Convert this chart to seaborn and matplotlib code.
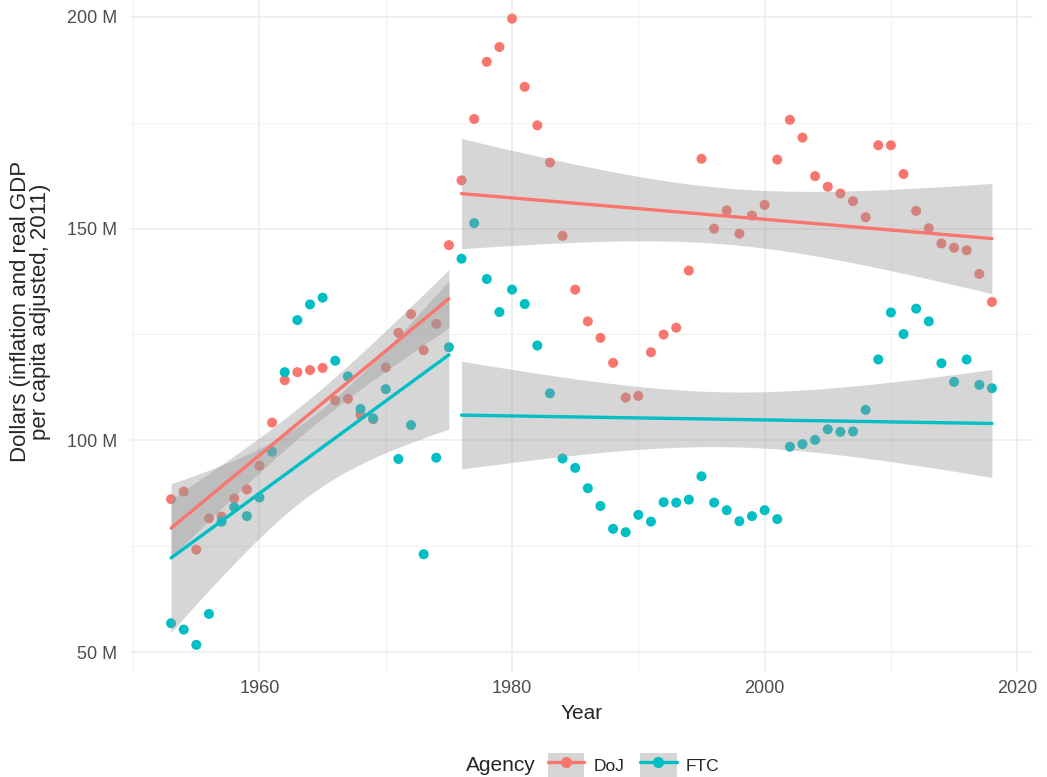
"""
Antitrust enforcement budgets by agency, 1953-2018.

Scatter of yearly budgets (DoJ vs FTC) with separate linear fits
before and after 1976, drawn in a ggplot-like minimal style.
"""

import numpy as np
import pandas as pd
import matplotlib
matplotlib.use("Agg")
import matplotlib.pyplot as plt
import seaborn as sns
from matplotlib.patches import Patch
from matplotlib.lines import Line2D
from matplotlib.legend_handler import HandlerTuple
from matplotlib.ticker import FuncFormatter, MultipleLocator

# Data (millions of dollars)
years = list(range(1953, 2019))

doj = [86.1, 87.9, 74.2, 81.6, 82.0, 86.3, 88.4, 94.0, 104.2, 114.2,
       116.1, 116.6, 117.1, 109.4, 109.8, 106.0, 105.0, 117.2, 125.4, 129.8,
       121.3, 127.5, 146.1, 161.4, 175.9, 189.4, 192.9, 199.6, 183.5, 174.4,
       165.6, 148.3, 135.6, 128.1, 124.2, 118.3, 110.1, 110.5, 120.8, 125.0,
       126.6, 140.1, 166.5, 150.0, 154.3, 148.8, 153.1, 155.6, 166.3, 175.7,
       171.5, 162.4, 159.9, 158.3, 156.5, 152.7, 169.7, 169.7, 162.9, 154.2,
       150.1, 146.5, 145.5, 144.9, 139.3, 132.7]

ftc = [56.8, 55.3, 51.7, 59.0, 80.8, 84.2, 82.1, 86.5, 97.3, 116.1,
       128.4, 132.1, 133.7, 118.8, 115.1, 107.4, 105.2, 112.1, 95.6, 103.6,
       73.1, 95.9, 122.0, 142.9, 151.3, 138.1, 130.3, 135.6, 132.2, 122.4,
       111.1, 95.7, 93.5, 88.7, 84.5, 79.1, 78.3, 82.4, 80.8, 85.4,
       85.3, 86.0, 91.5, 85.3, 83.5, 80.9, 82.1, 83.5, 81.4, 98.5,
       99.1, 100.1, 102.6, 102.0, 102.1, 107.2, 119.1, 130.2, 125.1, 131.1,
       128.1, 118.2, 113.8, 119.1, 113.1, 112.3]

agencies = ["DoJ", "FTC"]
colors = {"DoJ": "#F8766D", "FTC": "#00BFC4"}
break_year = 1976  # fits are estimated separately before / after


def t_quantile_975(dof: int) -> float:
    """Approximate 97.5% Student-t quantile (Cornish-Fisher expansion)."""
    z = 1.959964
    return (z + (z**3 + z) / (4 * dof)
            + (5 * z**5 + 16 * z**3 + 3 * z) / (96 * dof**2))


def ols_band(x: np.ndarray, y: np.ndarray, n_grid: int = 80):
    """Analytic 95% confidence band of a linear fit (like geom_smooth)."""
    slope, intercept = np.polyfit(x, y, 1)
    resid = y - (slope * x + intercept)
    n = len(x)
    s = np.sqrt(np.sum(resid**2) / (n - 2))
    sxx = np.sum((x - x.mean())**2)
    grid = np.linspace(x.min(), x.max(), n_grid)
    fit = slope * grid + intercept
    se = s * np.sqrt(1 / n + (grid - x.mean())**2 / sxx)
    t = t_quantile_975(n - 2)
    return grid, fit - t * se, fit + t * se


# Long-format table
df = pd.DataFrame({
    "year": years * 2,
    "value": doj + ftc,
    "agency": ["DoJ"] * len(years) + ["FTC"] * len(years),
})
df["period"] = np.where(df["year"] < break_year, "pre", "post")

sns.set_style("white")
plt.rcParams["font.family"] = ["Liberation Sans", "DejaVu Sans"]

fig, ax = plt.subplots(figsize=(10.47, 7.77), dpi=100)
fig.subplots_adjust(left=0.1242, right=0.9866, top=1.0, bottom=0.1351)

# Points first, so the confidence bands sit on top like in ggplot
sns.scatterplot(data=df, x="year", y="value", hue="agency", palette=colors,
                s=52, linewidth=0, legend=False, ax=ax, zorder=2)

# Separate linear fits per agency and period
for agency in agencies:
    for period in ["pre", "post"]:
        sub = df[(df["agency"] == agency) & (df["period"] == period)]
        grid, lo, hi = ols_band(sub["year"].to_numpy(float),
                                sub["value"].to_numpy(float))
        ax.fill_between(grid, lo, hi, color="#999999", alpha=0.4,
                        linewidth=0, zorder=3)
        n_lines = len(ax.lines)
        sns.regplot(data=sub, x="year", y="value", scatter=False, ci=None,
                    color=colors[agency], line_kws={"linewidth": 2.4}, ax=ax)
        for line in ax.lines[n_lines:]:
            line.set_zorder(4)

# Axes styling (theme_minimal look)
ax.set_xlim(1949.75, 2021.25)
ax.set_ylim(45.28, 204.0)
ax.xaxis.set_major_locator(MultipleLocator(20))
ax.xaxis.set_minor_locator(MultipleLocator(10))
ax.yaxis.set_major_locator(MultipleLocator(50))
ax.yaxis.set_minor_locator(MultipleLocator(25))
ax.yaxis.set_major_formatter(FuncFormatter(lambda v, _: f"{int(v)} M"))

ax.grid(True, which="major", color="#EBEBEB", linewidth=1.1)
ax.grid(True, which="minor", color="#F2F2F2", linewidth=0.8)
ax.set_axisbelow(True)
for spine in ax.spines.values():
    spine.set_visible(False)
ax.tick_params(which="both", length=0, labelsize=13, labelcolor="#4D4D4D")
ax.tick_params(axis="y", pad=9)
ax.tick_params(axis="x", pad=6)

ax.set_xlabel("Year", fontsize=15, labelpad=5)
ax.set_ylabel("Dollars (inflation and real GDP\nper capita adjusted, 2011)",
              fontsize=16, linespacing=0.95)
# the original panel continues above the cropped top, so the label sits lower
ax.yaxis.set_label_coords(-0.087, 0.536)

# Legend along the bottom: title on the left, keys with band background
handles = [(Patch(facecolor="#D6D6D6", edgecolor="none"),
            Line2D([0], [0], color=colors[a], linewidth=2.4,
                   marker="o", markersize=7))
           for a in agencies]
leg = fig.legend(handles, agencies, loc="center left", ncol=2,
                 bbox_to_anchor=(0.523, 0.0145), frameon=False,
                 fontsize=12.5, handlelength=2.1, handleheight=1.9,
                 handletextpad=0.55, columnspacing=0.9, numpoints=1,
                 borderaxespad=0, borderpad=0,
                 handler_map={tuple: HandlerTuple(ndivide=1, pad=0)})
fig.text(0.512, 0.0145, "Agency", ha="right", va="center", fontsize=15)

fig.savefig("out.png", dpi=100)
